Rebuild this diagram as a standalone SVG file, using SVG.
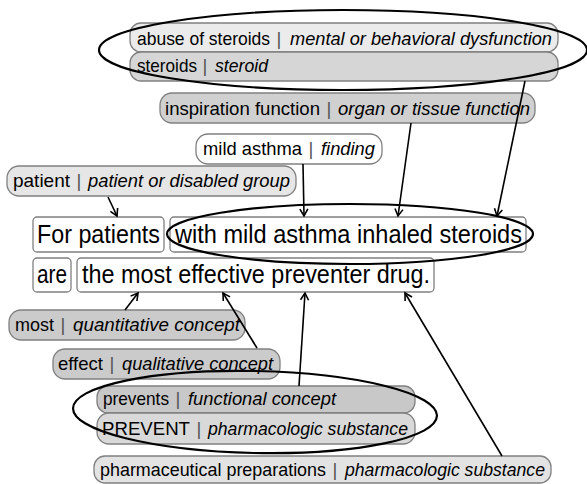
<svg xmlns="http://www.w3.org/2000/svg" width="587" height="484" viewBox="0 0 587 484">
<style>
  text { font-family: "Liberation Sans", Arial, sans-serif; fill: #000; }
  .lbl { font-size: 18.5px; }
  .sen { font-size: 25px; }
  .it { font-style: italic; }
  .bar { fill: #555; text-anchor: middle; }
  .lbox { stroke: #808080; stroke-width: 1.3; }
  .sbox { fill: #fff; stroke: #808080; stroke-width: 1.3; }
  .conn line { stroke: #000; stroke-width: 1.6; marker-end: url(#ah); }
  .ell { fill: none; stroke: #000; stroke-width: 2.2; }
</style>
<defs>
  <marker id="ah" markerUnits="userSpaceOnUse" markerWidth="14" markerHeight="14" refX="0" refY="0" viewBox="-8 -7 10 14" orient="auto" overflow="visible">
    <path d="M -7 -4 L 0 0 L -7 4" fill="none" stroke="#000" stroke-width="1.6"/>
  </marker>
</defs>
<rect width="587" height="484" fill="#fff"/>

<g id="abuse">
  <rect class="lbox" x="130" y="23" width="428" height="29" rx="11" fill="#ebebeb"/>
  <text class="lbl" x="137" y="44.5" textLength="133" lengthAdjust="spacingAndGlyphs">abuse of steroids</text>
  <text class="lbl bar" x="279" y="44.5">|</text>
  <text class="lbl it" x="290" y="44.5" textLength="262" lengthAdjust="spacingAndGlyphs">mental or behavioral dysfunction</text>
</g>
<g id="steroids">
  <rect class="lbox" x="130" y="52" width="428" height="29" rx="11" fill="#d6d6d6"/>
  <text class="lbl" x="137" y="72" textLength="60" lengthAdjust="spacingAndGlyphs">steroids</text>
  <text class="lbl bar" x="205" y="72">|</text>
  <text class="lbl it" x="215" y="72" textLength="53" lengthAdjust="spacingAndGlyphs">steroid</text>
</g>
<g id="inspiration">
  <rect class="lbox" x="160" y="93" width="375" height="30" rx="12" fill="#d0d0d0"/>
  <text class="lbl" x="165" y="114.5" textLength="155" lengthAdjust="spacingAndGlyphs">inspiration function</text>
  <text class="lbl bar" x="329" y="114.5">|</text>
  <text class="lbl it" x="338" y="114.5" textLength="192" lengthAdjust="spacingAndGlyphs">organ or tissue function</text>
</g>
<g id="mildasthma">
  <rect class="lbox" x="196" y="134" width="186" height="30" rx="12" fill="#ffffff"/>
  <text class="lbl" x="203" y="155" textLength="99" lengthAdjust="spacingAndGlyphs">mild asthma</text>
  <text class="lbl bar" x="311" y="155">|</text>
  <text class="lbl it" x="321" y="155" textLength="54" lengthAdjust="spacingAndGlyphs">finding</text>
</g>
<g id="patient">
  <rect class="lbox" x="7" y="166" width="289" height="30" rx="12" fill="#e6e6e6"/>
  <text class="lbl" x="13" y="187" textLength="57" lengthAdjust="spacingAndGlyphs">patient</text>
  <text class="lbl bar" x="79" y="187">|</text>
  <text class="lbl it" x="88" y="187" textLength="202" lengthAdjust="spacingAndGlyphs">patient or disabled group</text>
</g>

<g id="forpatients">
  <rect class="sbox" x="33" y="217" width="131" height="35" rx="4"/>
  <text class="sen" x="37" y="243" textLength="123" lengthAdjust="spacingAndGlyphs">For patients</text>
</g>
<g id="withmild">
  <rect class="sbox" x="170" y="217" width="356" height="35" rx="4"/>
  <text class="sen" x="175" y="243" textLength="347" lengthAdjust="spacingAndGlyphs">with mild asthma inhaled steroids</text>
</g>
<g id="are">
  <rect class="sbox" x="33" y="258" width="38" height="34" rx="4"/>
  <text class="sen" x="37" y="282.5" textLength="30" lengthAdjust="spacingAndGlyphs">are</text>
</g>
<g id="themost">
  <rect class="sbox" x="77" y="258" width="357" height="34" rx="4"/>
  <text class="sen" x="82" y="282.5" textLength="348" lengthAdjust="spacingAndGlyphs">the most effective preventer drug.</text>
</g>

<g id="most">
  <rect class="lbox" x="9" y="310" width="236" height="30" rx="12" fill="#cbcbcb"/>
  <text class="lbl" x="15" y="331" textLength="39" lengthAdjust="spacingAndGlyphs">most</text>
  <text class="lbl bar" x="63" y="331">|</text>
  <text class="lbl it" x="73" y="331" textLength="167" lengthAdjust="spacingAndGlyphs">quantitative concept</text>
</g>
<g id="effect">
  <rect class="lbox" x="53" y="349" width="227" height="30" rx="12" fill="#cbcbcb"/>
  <text class="lbl" x="58" y="369.5" textLength="45" lengthAdjust="spacingAndGlyphs">effect</text>
  <text class="lbl bar" x="112" y="369.5">|</text>
  <text class="lbl it" x="122" y="369.5" textLength="151" lengthAdjust="spacingAndGlyphs">qualitative concept</text>
</g>
<g id="prevents">
  <rect class="lbox" x="97" y="386" width="318" height="27" rx="11" fill="#c8c8c8"/>
  <text class="lbl" x="103" y="405" textLength="66" lengthAdjust="spacingAndGlyphs">prevents</text>
  <text class="lbl bar" x="178" y="405">|</text>
  <text class="lbl it" x="188" y="405" textLength="148" lengthAdjust="spacingAndGlyphs">functional concept</text>
</g>
<g id="PREVENT">
  <rect class="lbox" x="97" y="413" width="318" height="31" rx="12" fill="#d9d9d9"/>
  <text class="lbl" x="102" y="435" textLength="88" lengthAdjust="spacingAndGlyphs">PREVENT</text>
  <text class="lbl bar" x="199" y="435">|</text>
  <text class="lbl it" x="208" y="435" textLength="200" lengthAdjust="spacingAndGlyphs">pharmacologic substance</text>
</g>
<g id="pharmaceutical">
  <rect class="lbox" x="94" y="456" width="457" height="27" rx="11" fill="#e3e3e3"/>
  <text class="lbl" x="100" y="476" textLength="226" lengthAdjust="spacingAndGlyphs">pharmaceutical preparations</text>
  <text class="lbl bar" x="335" y="476">|</text>
  <text class="lbl it" x="345" y="476" textLength="200" lengthAdjust="spacingAndGlyphs">pharmacologic substance</text>
</g>

<g id="connectors" class="conn">
  <line x1="108" y1="197" x2="117" y2="216"/>
  <line x1="303" y1="164" x2="304" y2="216"/>
  <line x1="411" y1="123" x2="398" y2="216"/>
  <line x1="525" y1="81" x2="497" y2="216"/>
  <line x1="125" y1="310" x2="138" y2="293"/>
  <line x1="257" y1="348" x2="223" y2="293"/>
  <line x1="299" y1="386" x2="305" y2="293"/>
  <line x1="502" y1="456" x2="405" y2="293"/>
</g>

<g id="groups">
  <ellipse class="ell" cx="343" cy="50" rx="244" ry="40"/>
  <ellipse class="ell" cx="350" cy="234" rx="183" ry="30"/>
  <ellipse class="ell" cx="255" cy="412" rx="182" ry="41" transform="rotate(1.2 255 412)"/>
</g>
</svg>
